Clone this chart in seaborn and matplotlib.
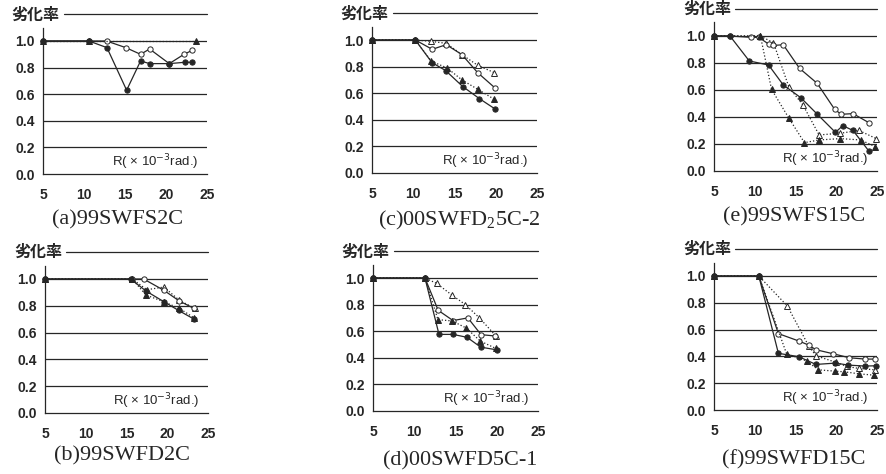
import pandas as pd
import seaborn as sns
import matplotlib.pyplot as plt
import matplotlib.transforms as mtransforms

# values: (R [x10^-3 rad], deterioration ratio)
# fc = filled circle, oc = open circle, ft = filled triangle, ot = open triangle
a_fc = [(5, 1.0), (10.6, 1.0), (12.8, 0.95), (15.2, 0.63), (16.9, 0.85), (18.0, 0.83),
        (20.4, 0.83), (22.3, 0.84), (23.2, 0.84)]
a_oc = [(5, 1.0), (10.6, 1.0), (12.75, 1.0), (15.1, 0.95), (16.9, 0.90), (18.0, 0.94),
        (20.4, 0.83), (22.2, 0.90), (23.2, 0.93)]
a_ft = [(5, 1.0), (10.6, 1.0), (23.6, 1.0)]
a_ot = []

b_fc = [(5, 1.0), (15.5, 1.0), (17.4, 0.91), (19.6, 0.83), (21.4, 0.765), (23.3, 0.70)]
b_oc = [(5, 1.0), (15.7, 1.0), (17.1, 1.0), (19.6, 0.915), (21.5, 0.835), (23.3, 0.78)]
b_ft = [(5, 1.0), (15.7, 1.0), (17.4, 0.88), (19.6, 0.83), (21.5, 0.78), (23.3, 0.71)]
b_ot = [(5, 1.0), (15.7, 1.0), (17.5, 0.92), (19.6, 0.94), (21.5, 0.84), (23.4, 0.78)]

c_fc = [(5, 1.0), (10.25, 1.0), (12.27, 0.83), (13.93, 0.77), (16.0, 0.65), (18.0, 0.56),
        (19.95, 0.48)]
c_oc = [(5, 1.0), (10.25, 1.0), (12.3, 0.93), (14.0, 0.965), (15.9, 0.89), (17.8, 0.755),
        (19.9, 0.64)]
c_ft = [(5, 1.0), (10.25, 1.0), (12.2, 0.84), (14.1, 0.79), (15.9, 0.70), (17.8, 0.63),
        (19.8, 0.555)]
c_ot = [(5, 1.0), (10.25, 1.0), (12.1, 0.99), (14.0, 0.975), (15.9, 0.89), (17.8, 0.81),
        (19.8, 0.755)]

d_fc = [(5, 1.0), (11.3, 1.0), (13.0, 0.576), (14.7, 0.576), (16.4, 0.554), (18.06, 0.48),
        (20.0, 0.46)]
d_oc = [(5, 1.0), (11.3, 1.0), (12.9, 0.757), (14.7, 0.68), (16.5, 0.70), (18.1, 0.574),
        (19.8, 0.564)]
d_ft = [(5, 1.0), (11.3, 1.0), (12.87, 0.687), (14.6, 0.677), (16.3, 0.624), (18.0, 0.526),
        (19.9, 0.47)]
d_ot = [(5, 1.0), (11.3, 1.0), (12.7, 0.96), (14.6, 0.87), (16.2, 0.80), (17.9, 0.70),
        (19.9, 0.564)]

e_fc = [(5, 1.0), (6.96, 1.0), (9.33, 0.815), (11.7, 0.785), (13.5, 0.637), (15.65, 0.543),
        (17.6, 0.425), (19.9, 0.286), (20.8, 0.336), (22.06, 0.30), (24.0, 0.148)]
e_oc = [(5, 1.0), (6.96, 1.0), (9.6, 0.99), (10.5, 0.99), (11.7, 0.94), (12.2, 0.93),
        (13.5, 0.935), (15.5, 0.76), (17.65, 0.65), (19.8, 0.457), (20.6, 0.42),
        (22.06, 0.425), (24.0, 0.358)]
e_ft = [(5, 1.0), (10.7, 1.0), (12.06, 0.605), (14.2, 0.39), (16.1, 0.21), (17.9, 0.23),
        (20.5, 0.24), (23.0, 0.23), (24.8, 0.18)]
e_ot = [(5, 1.0), (10.7, 1.0), (12.3, 0.95), (14.2, 0.62), (15.9, 0.49), (17.9, 0.267),
        (20.5, 0.28), (22.8, 0.30), (24.9, 0.24)]

f_fc = [(5, 1.0), (10.5, 1.0), (12.9, 0.423), (15.4, 0.398), (17.5, 0.34), (19.9, 0.35),
        (21.5, 0.335), (23.5, 0.328), (24.9, 0.33)]
f_oc = [(5, 1.0), (10.5, 1.0), (12.9, 0.57), (15.4, 0.515), (16.6, 0.485), (17.5, 0.45),
        (19.6, 0.42), (21.6, 0.39), (23.5, 0.38), (24.8, 0.38)]
f_ft = [(5, 1.0), (10.5, 1.0), (13.9, 0.42), (16.4, 0.365), (17.8, 0.30), (19.8, 0.29),
        (21.0, 0.285), (22.8, 0.27), (24.6, 0.26)]
f_ot = [(5, 1.0), (10.5, 1.0), (14.0, 0.776), (16.6, 0.48), (17.5, 0.405), (20.0, 0.355),
        (21.3, 0.325), (22.8, 0.31), (24.7, 0.30)]

titles = ['(a)99SWFS2C', '(b)99SWFD2C', r'(c)00SWFD$_\mathregular{2}$5C-2',
          '(d)00SWFD5C-1', '(e)99SWFS15C', '(f)99SWFD15C']
panels = [(a_fc, a_oc, a_ft, a_ot), (b_fc, b_oc, b_ft, b_ot), (c_fc, c_oc, c_ft, c_ot),
          (d_fc, d_oc, d_ft, d_ot), (e_fc, e_oc, e_ft, e_ot), (f_fc, f_oc, f_ft, f_ot)]
x_ticks = [5, 10, 15, 20, 25]
y_ticks = [0.0, 0.2, 0.4, 0.6, 0.8, 1.0]

sns.set_style('white')
plt.rcParams['font.family'] = ['Liberation Sans', 'Noto Sans CJK JP', 'DejaVu Sans']
plt.rcParams['mathtext.fontset'] = 'custom'
plt.rcParams['mathtext.rm'] = 'Liberation Serif'

ink = '#262626'
W, H = 887, 474
fig = plt.figure(figsize=(W / 100, H / 100), dpi=100)

# pixel boxes: left, right, y of 0.0, y of 1.0 ; title centre
boxes = [(43, 207, 174, 41, 118, 220), (45, 208, 413, 279, 122, 456),
         (372, 537, 173, 40, 459, 220), (373, 538, 411, 278, 460, 461),
         (714, 877, 171, 36, 794, 217), (714, 877, 410, 276, 794, 460)]

# marker / line style per series
styles = [dict(marker='o', mfc=ink, ls='-'), dict(marker='o', mfc='white', ls='-'),
          dict(marker='^', mfc=ink, ls=':'), dict(marker='^', mfc='white', ls=':')]
# open markers first so shared start points show filled, as in the scan
order = [3, 1, 2, 0]

for (series, title, box) in zip(panels, titles, boxes):
    l, r, y0, y1, tx, ty = box
    y12 = y1 - (y0 - y1) * 0.2
    ax = fig.add_axes([l / W, 1 - y0 / H, (r - l) / W, (y0 - y12) / H])
    for i in order:
        pts = series[i]
        if not pts:
            continue
        df = pd.DataFrame(pts, columns=['R', 'ratio'])
        st = styles[i]
        sns.lineplot(data=df, x='R', y='ratio', ax=ax, estimator=None, sort=False,
                     color=ink, lw=0.9, linestyle=st['ls'], marker=st['marker'],
                     markersize=3.8, markerfacecolor=st['mfc'],
                     markeredgecolor=ink, markeredgewidth=0.7, clip_on=False, zorder=3)
    ax.set_xlim(5, 25)
    ax.set_ylim(0, 1.2)
    ax.set_xticks(x_ticks)
    ax.set_yticks(y_ticks)
    ax.set_yticklabels([f'{v:.1f}' for v in y_ticks])
    for v in y_ticks[1:]:
        ax.axhline(v, color=ink, lw=0.9, zorder=0)
    ax.axhline(1.2, xmin=0.13, xmax=1.0, color=ink, lw=0.9, zorder=0, clip_on=False)
    ax.set_xlabel('')
    ax.set_ylabel('')
    for s in ['top', 'right']:
        ax.spines[s].set_visible(False)
    ax.spines['left'].set_bounds(0, 1.1)
    for s in ['left', 'bottom']:
        ax.spines[s].set_color(ink)
        ax.spines[s].set_linewidth(0.9)
    ax.tick_params(axis='x', direction='in', length=3, width=0.9, color=ink,
                   pad=10, labelsize=10, labelcolor=ink)
    ax.tick_params(axis='y', length=0, pad=6, labelsize=10, labelcolor=ink)
    for lab in ax.get_xticklabels() + ax.get_yticklabels():
        lab.set_fontweight('bold')
    trans = mtransforms.blended_transform_factory(ax.transAxes, ax.transData)
    ax.text(-0.19, 1.2, '劣化率', transform=trans, ha='left', va='center',
            fontsize=11.5, fontweight='bold', color=ink, family=['Noto Sans CJK JP'])
    ax.text(24.0, 0.085, r'R( × 10$^{\mathsf{-3}}$rad.)', ha='right', va='center',
            fontsize=9.5, color=ink)
    fig.text(tx / W, 1 - ty / H, title, ha='center', va='center', fontsize=16,
             family='Liberation Serif', color=ink)

fig.savefig('out.png', dpi=100)
